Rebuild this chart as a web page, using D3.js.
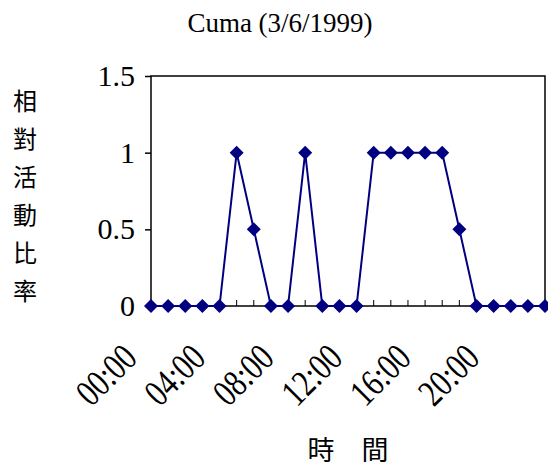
<!DOCTYPE html>
<html>
<head>
<meta charset="utf-8">
<script src="https://d3js.org/d3.v7.min.js"></script>
<style>
body { margin: 0; background: #fff; }
text { font-family: "Liberation Serif", "Noto Sans CJK TC", serif; }
</style>
</head>
<body>
<svg width="548" height="472"></svg>
<script>
var hours = d3.range(24);
var values = [0,0,0,0,0,1,0.5,0,0,1,0,0,0,1,1,1,1,1,0.5,0,0,0,0,0];
var xLabels = ["00:00","04:00","08:00","12:00","16:00","20:00"];
var yTicks = [0, 0.5, 1, 1.5];

var svg = d3.select("svg");
var x = d3.scaleLinear().domain([0, 23]).range([151, 545]);
var y = d3.scaleLinear().domain([0, 1.5]).range([306, 76]);

// plot frame
svg.append("rect").attr("x", 151).attr("y", 76).attr("width", 394).attr("height", 230)
    .attr("fill", "none").attr("stroke", "#000").attr("stroke-width", 1.5);

// y ticks
svg.append("g").attr("transform", "translate(151,0)")
    .call(d3.axisLeft(y).tickValues(yTicks).tickFormat(d3.format("")).tickSize(6).tickPadding(10))
    .call(function(g) {
        g.select(".domain").remove();
        g.selectAll("line").attr("stroke-width", 1.5);
        g.selectAll("text").attr("font-size", 30).attr("font-family", "Liberation Serif");
    });

// x ticks
svg.append("g").attr("transform", "translate(0,306)")
    .selectAll("line").data(hours).enter().append("line")
    .attr("x1", function(d) { return x(d); }).attr("x2", function(d) { return x(d); })
    .attr("y1", 0).attr("y2", -6).attr("stroke", "#000");

svg.append("g").selectAll("text").data(xLabels).enter().append("text")
    .attr("transform", function(d, i) { return "translate(" + (x(i * 4) - 12) + ",360) rotate(-45) scale(0.9,1.15)"; })
    .attr("text-anchor", "end").attr("font-size", 33).text(function(d) { return d; });

// line
svg.append("path").datum(values)
    .attr("fill", "none").attr("stroke", "#000080").attr("stroke-width", 2)
    .attr("d", d3.line().x(function(d, i) { return x(i); }).y(function(d) { return y(d); }));

svg.append("g").selectAll("path").data(values).enter().append("path")
    .attr("transform", function(d, i) { return "translate(" + x(i) + "," + y(d) + ")"; })
    .attr("d", "M0,-7L7,0L0,7L-7,0Z").attr("fill", "#000080");

// titles
svg.append("text").attr("x", 280).attr("y", 32).attr("text-anchor", "middle")
    .attr("font-size", 27).text("Cuma (3/6/1999)");

svg.append("g").selectAll("text").data("相對活動比率".split("")).enter().append("text")
    .attr("x", 25).attr("y", function(d, i) { return 110 + i * 38; })
    .attr("text-anchor", "middle").attr("font-size", 24).text(function(d) { return d; });

svg.append("text").attr("x", 348).attr("y", 460).attr("text-anchor", "middle")
    .attr("font-size", 27).text("時　間");
</script>
</body>
</html>
